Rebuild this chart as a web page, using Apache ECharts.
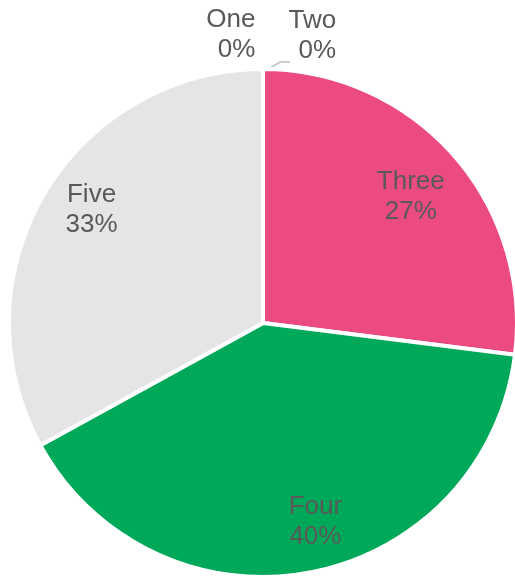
<!DOCTYPE html>
<html>
<head>
<meta charset="utf-8">
<script src="https://cdn.jsdelivr.net/npm/echarts@6/dist/echarts.min.js"></script>
<style>
  html, body { margin: 0; padding: 0; background: #fff; }
  #chart { width: 515px; height: 576px; }
</style>
</head>
<body>
<div id="chart"></div>
<script>
const categories = ['One', 'Two', 'Three', 'Four', 'Five']
const values = [0, 0, 27, 40, 33]
const colors = ['#4472C4', '#ED7D31', '#EC4A83', '#00A859', '#E5E5E5']

const cx = 263
const cy = 323
const R = 254

const labelFont = { fontFamily: 'Liberation Sans, Arial, sans-serif', fontSize: 26, lineHeight: 30, color: '#595959' }

const chart = echarts.init(document.getElementById('chart'), null, { renderer: 'canvas' })

// main pie: slices + outside labels for the empty slices
const mainData = categories.map((name, i) => ({
  name,
  value: values[i],
  itemStyle: { color: colors[i] },
  label: { show: values[i] === 0 },
  labelLine: { show: i === 1 },
}))

// overlay ring only used to put the big labels at ~80% of the radius
const labelData = categories.map((name, i) => ({
  name,
  value: values[i],
  label: { show: values[i] !== 0 },
}))

// small nudges so labels sit where the original placed them
const nudge = [[0, 0], [0, 0], [-6, 9], [14, -3], [5, -9]]

chart.setOption({
  animation: false,
  series: [
    {
      type: 'pie',
      center: [cx, cy],
      radius: R,
      startAngle: 90,
      clockwise: true,
      percentPrecision: 0,
      avoidLabelOverlap: false,
      itemStyle: { borderColor: '#fff', borderWidth: 4 },
      label: {
        ...labelFont,
        position: 'outside',
        align: 'center',
        formatter: '{b}\n{d}%',
      },
      labelLine: { length: 12, length2: 10, lineStyle: { color: '#BFBFBF', width: 1.5 } },
      labelLayout: (p) => {
        if (p.dataIndex === 0) return { dx: 32 - p.labelRect.width / 2, dy: -22 }
        if (p.dataIndex === 1) {
          return {
            dx: 112 - p.labelRect.width / 2,
            dy: -21,
            labelLinePoints: [[cx + 1, cy - R + 3], [cx + 17, cy - R - 7], [cx + 27, cy - R - 7]],
          }
        }
      },
      emphasis: { disabled: true },
      data: mainData,
    },
    {
      type: 'pie',
      silent: true,
      center: [cx, cy],
      radius: [150, R],
      startAngle: 90,
      clockwise: true,
      percentPrecision: 0,
      itemStyle: { color: 'transparent' },
      label: {
        ...labelFont,
        position: 'inside',
        formatter: '{b}\n{d}%',
      },
      labelLine: { show: false },
      labelLayout: (p) => ({ dx: nudge[p.dataIndex][0], dy: nudge[p.dataIndex][1] }),
      emphasis: { disabled: true },
      data: labelData,
    },
  ],
})
</script>
</body>
</html>
